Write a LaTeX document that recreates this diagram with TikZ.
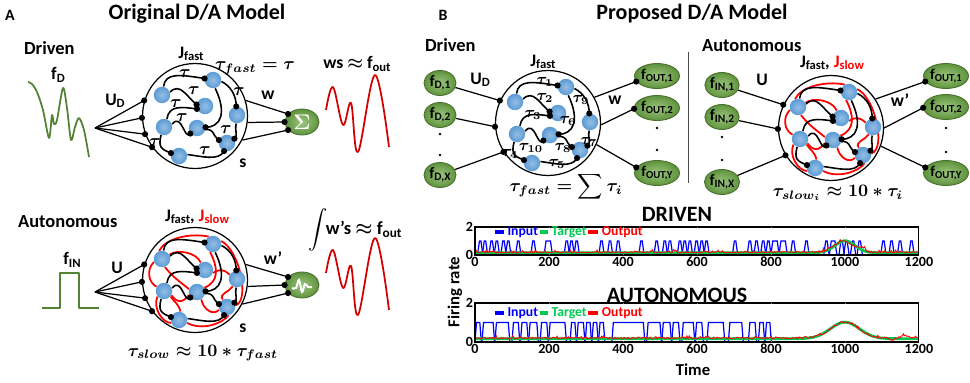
\documentclass[tikz,border=0pt]{standalone}
\usepackage{amsmath}
\usepackage{fontspec}
\setmainfont{Carlito}
\usetikzlibrary{shapes.geometric}

\definecolor{nb}{RGB}{91,155,213}
\definecolor{ng}{RGB}{112,173,71}
\definecolor{wg}{RGB}{84,130,53}
\definecolor{wr}{RGB}{210,0,0}
\definecolor{tg}{RGB}{0,200,80}

\newcommand{\lowtxt}[1]{\raisebox{-0.3ex}{\scalebox{0.72}{#1}}}

\tikzset{
  lbl/.style={font=\bfseries\boldmath\fontsize{10}{12}\selectfont, inner sep=1pt},
  head/.style={font=\bfseries\fontsize{10.5}{12}\selectfont, inner sep=1pt},
  ttl/.style={font=\bfseries\fontsize{12.5}{15}\selectfont, inner sep=1pt},
  panel/.style={font=\bfseries\fontsize{9}{11}\selectfont, inner sep=1pt},
  tau/.style={font=\boldmath\fontsize{10}{12}\selectfont, inner sep=0pt},
  taui/.style={font=\boldmath\fontsize{9}{11}\selectfont, inner sep=0pt},
  tick/.style={font=\bfseries\fontsize{8}{9}\selectfont, inner sep=1pt},
  leg/.style={font=\bfseries\fontsize{7.8}{9}\selectfont, inner sep=1pt},
  bigcirc/.style={circle, draw, line width=0.7pt, minimum size=2.1cm, inner sep=0pt},
  spot/.style={circle, minimum size=0.33cm, inner sep=0pt},
  neuron/.style={spot, inner color=nb!65!white, outer color=nb},
  dot/.style={circle, fill, inner sep=0pt, minimum size=3.5pt},
  wire/.style={line width=0.7pt},
  fast/.style={line width=0.9pt},
  slow/.style={line width=1pt, red},
  cell/.style={ellipse, draw=ng!65!black, line width=0.5pt, inner color=ng!70!white,
    outer color=ng!85!black, inner sep=0pt, font=\bfseries\fontsize{9}{10}\selectfont},
  incell/.style={cell, minimum width=0.64cm, minimum height=0.5cm},
  outcell/.style={cell, minimum width=0.9cm, minimum height=0.5cm, font=\bfseries\fontsize{8.5}{10}\selectfont},
  sig/.style={line width=1pt, line join=round},
  inp/.style={blue, line width=0.7pt},
  tgt/.style={tg, line width=1.6pt},
  outp/.style={red, line width=0.5pt},
  pics/net/.style={code={
    % body and neuron places
    \node[bigcirc] (-c) at (0,0) {};
    \foreach \x/\y [count=\i] in {-33/-21,18/-36,10/-10,42/-1,-31/11,2/12,32/27,-16/40}
      \node[spot] (-n\i) at (\x,\y) {};
    % slow links
    \ifnum#1=1
      \foreach \a/\b/\p/\q/\r/\s in {n1.110/n2.120/6/-12/-20/-4, n2.20/n7.10/18/8/15/-5,
          n2.250/n6.30/8/15/15/-6, n1.200/n5.150/-8/8/-8/-4, n5.220/n8.200/-5/12/-8/0,
          n8.340/n7.280/15/8/-6/8, n6.160/n1.290/-10/-8/8/10, n3.120/n1.30/-4/-10/8/-6,
          n7.200/n6.300/-6/6/2/10, n6.200/n5.330/-6/8/6/8, n7.120/n4.240/-4/-6/-4/6,
          n8.80/n5.320/-2/-8/4/6, n4.150/n3.340/-6/-6/6/-4}
        \draw[slow] (-\a) .. controls +(\p,\q) and +(\r,\s) .. (-\b);
    \fi
    % fast links
    \foreach \a/\b/\p/\q/\r/\s in {n1.80/n2.170/2/-14/-25/-4, n1.20/n3.170/10/-10/-10/-8,
        n5.70/n3.200/2/-14/-15/-2, n5.20/n6.220/10/-12/-6/8, n2.285/n6.5/12/25/15/0,
        n2.350/n4.95/10/5/0/-10, n4.265/n7.30/-2/8/4/-4, n6.350/n7.160/10/0/-8/-6,
        n5.250/n8.160/-3/12/-10/-4, n8.10/n7.250/15/2/-5/10}
      \draw[fast] (-\a) .. controls +(\p,\q) and +(\r,\s) .. (-\b);
    % neurons
    \foreach \i in {1,...,8}
      \node[neuron] (-b\i) at (-n\i) {};
    \foreach \b [count=\k] in {n2.170,n3.170,n3.200,n6.220,n6.5,n4.95,n7.30,n7.160,n8.160,n7.250}
      \node[dot] (-d\k) at (-\b) {};
  }},
  pics/net/.default=0
}

\begin{document}
\begin{tikzpicture}[x=0.02cm, y=-0.02cm,
  declare function={bump(\u,\m,\s)=exp(-(min(abs((\u-\m)/\s),3))*(min(abs((\u-\m)/\s),3)));}]
\useasboundingbox (0,0) rectangle (970,382);
\pgfmathsetseed{7}

% Panel A titles
\node[panel] (lA) at (10,15) {A};
\node[ttl] (tA) at (197,14) {Original D/A Model};

% A: driven
\node[head, anchor=west] (dA) at (22,48) {Driven};
\node[lbl] (fdA) at (58,75) {f\lowtxt{D}};
\draw[sig, wg] plot[smooth, tension=0.5] coordinates {(28,82) (32,84) (37,92) (43,110) (49,138)
  (52,115) (54,124) (57,120) (63,88) (67,108) (71,140) (75,127) (79,118) (84,130) (89,157)};
\coordinate (fanA) at (95,128);
\pic (na) at (195,116) {net=0};
\foreach \a in {163,182,200,216}
  \draw[wire] (fanA) -- (na-c.\a) node[dot] {};
\node[cell, minimum width=0.68cm, minimum height=0.52cm, text=white,
  font=\boldmath\fontsize{13}{14}\selectfont] (sum) at (302,122) {$\Sigma$};
\foreach \a/\b in {17/150,353/180,333/210}
  \draw[wire] (na-c.\a) -- (sum.\b) node[dot] {};
\node[lbl] (uA) at (115,101) {U\lowtxt{D}};
\node[lbl] (jA) at (191,54) {J\lowtxt{fast}};
\node[tau] (tfA) at (255,68) {$\tau_{fast}=\tau$};
\node[lbl] (wA) at (268,95) {w};
\node[lbl] (sA) at (243,163) {s};
\foreach \x/\y [count=\i] in {185/74,194/91,176/104,182/118,239/92,226/130,155/143,205/151}
  \node[tau] (ta\i) at (\x,\y) {$\tau$};
\node[lbl] (oA) at (357,64) {ws $\approx$ f\lowtxt{out}};
\foreach \dy in {0,163}
  \draw[sig, wr, shift={(0,\dy)}] plot[smooth, tension=0.6] coordinates {(326,110) (333,87)
    (343,125) (351,103) (358,152) (375,75) (389,147)};

% A: autonomous
\node[head, anchor=west] (aA) at (16,222) {Autonomous};
\node[lbl] (fiA) at (72,260) {f\lowtxt{IN}};
\draw[sig, wg] (42,308) -- (60,308) -- (60,273) -- (79,273) -- (79,308) -- (99,308);
\coordinate (fanB) at (95,292);
\pic (nc) at (195,280) {net=1};
\foreach \a in {163,182,200,216}
  \draw[wire] (fanB) -- (nc-c.\a) node[dot] {};
\node[cell, minimum width=0.68cm, minimum height=0.52cm] (osc) at (302,285) {};
\draw[white, line width=1.1pt] plot[smooth, tension=0.7] coordinates {(292,288) (296,288)
  (299,280) (302,292) (305,284) (308,287) (312,287)};
\foreach \a/\b in {17/150,353/180,333/210}
  \draw[wire] (nc-c.\a) -- (osc.\b) node[dot] {};
\node[lbl] (uB) at (117,268) {U};
\node[lbl] (jB) at (197,217) {J\lowtxt{fast}, \textcolor{red}{J\lowtxt{slow}}};
\node[lbl] (wB) at (273,258) {w’};
\node[lbl] (sB) at (243,328) {s};
\node[tau] (tsA) at (203,353) {$\tau_{slow}\approx 10*\tau_{fast}$};
\node[lbl, font=\bfseries\boldmath\fontsize{10.5}{12}\selectfont] (iA) at (355,230)
  {$\displaystyle\int$\kern-1pt w’s $\approx$ f\lowtxt{out}};

% Panel B titles
\node[panel] (lB) at (443,15) {B};
\node[ttl] (tB) at (692,14) {Proposed D/A Model};
\draw[line width=0.5pt, black!70] (688,52) -- (688,183);

% B: driven
\node[head, anchor=west] (dB) at (423,45) {Driven};
\foreach \y/\t [count=\i] in {83/{D,1},115/{D,2},175/{D,X}}
  \node[incell] (fd\i) at (440,\y) {f\lowtxt{\t}};
\foreach \y in {134,155} \fill (440,\y) circle (1.3);
\pic (nb) at (548,123) {net=0};
\foreach \i/\a in {1/155,2/184,3/213}
  \draw[wire] (fd\i) -- (nb-c.\a) node[dot] {};
\foreach \y/\t [count=\i] in {76/{OUT,1},108/{OUT,2},173/{OUT,Y}}
  \node[outcell] (fo\i) at (657,\y) {f\lowtxt{\t}};
\foreach \y in {128,150} \fill (657,\y) circle (1.3);
\foreach \a/\i/\b in {29/1/195,358/2/182,336/3/165}
  \draw[wire] (nb-c.\a) -- (fo\i.\b) node[dot] {};
\node[lbl] (uC) at (480,80) {U\lowtxt{D}};
\node[lbl] (jC) at (543,62) {J\lowtxt{fast}};
\node[lbl] (wC) at (615,100) {w};
\foreach \x/\y/\k in {545/82/1,545/98/2,533/115/3,510/154/4,557/164/5,568/121/6,589/142/7,
    563/148/8,581/100/9,531/148/10}
  \node[taui] (tb\k) at (\x,\y) {$\tau_{\k}$};
\node[tau] (tfB) at (566,187) {$\tau_{fast}=\displaystyle\sum\tau_i$};

% B: autonomous
\node[head, anchor=west] (aB) at (700,46) {Autonomous};
\foreach \y/\t [count=\i] in {85/{IN,1},117/{IN,2},182/{IN,X}}
  \node[incell] (fi\i) at (722,\y) {f\lowtxt{\t}};
\foreach \y in {137,160} \fill (722,\y) circle (1.3);
\pic (nd) at (831,128) {net=1};
\foreach \i/\a in {1/154,2/181,3/211}
  \draw[wire] (fi\i) -- (nd-c.\a) node[dot] {};
\foreach \y/\t [count=\i] in {76/{OUT,1},107/{OUT,2},173/{OUT,Y}}
  \node[outcell] (fa\i) at (946,\y) {f\lowtxt{\t}};
\foreach \y in {128,152} \fill (946,\y) circle (1.3);
\foreach \a/\i/\b in {33/1/195,0/2/182,340/3/165}
  \draw[wire] (nd-c.\a) -- (fa\i.\b) node[dot] {};
\node[lbl] (uD) at (762,80) {U};
\node[lbl] (jD) at (832,63) {J\lowtxt{fast}, \textcolor{red}{J\lowtxt{slow}}};
\node[lbl] (wD) at (900,100) {w’};
\node[tau] (tsB) at (838,193) {$\tau_{slow_i}\approx 10*\tau_i$};

% Traces
\node[ttl] (hd) at (677,214) {DRIVEN};
\node[ttl] (ha) at (677,295) {AUTONOMOUS};
\node[lbl, rotate=90, font=\bfseries\fontsize{9.5}{11}\selectfont] (fr) at (455,292) {Firing rate};
\node[lbl, font=\bfseries\fontsize{9.5}{11}\selectfont] (tm) at (693,370) {Time};

% driven trace
\begin{scope}[shift={(475,255)}, x=0.0074cm, y=0.28cm]
  \draw[inp] (0,0.05) -- (1200,0.05);
  \foreach \t/\w in {14/2,27/2,45/2,59/2,77/2,90/2,117/2,158/2,198/6,248/2,261/2,275/2,342/2,
      365/2,387/2,450/2,491/2,513/2,527/2,554/2,567/2,581/2,599/2,613/2,626/2,703/2,743/2,
      761/2,779/2,793/2,811/6,833/6,860/2,896/2,950/2,968/5,991/2,1004/2,1022/2,1040/2,
      1104/2,1126/2,1149/2,1180/2}
    \draw[inp] (\t-\w-5,0.05) -- (\t-\w,1) -- (\t+\w,1) -- (\t+\w+5,0.05);
  \draw[tgt] plot[domain=0:1200, samples=161, smooth] (\x, {0.16+0.86*bump(\x,1000,38)});
  \draw[outp] plot[domain=0:1200, samples=401] (\x, {0.15+0.08*rnd+0.18*rnd^8
    +0.8*bump(\x,995,35)+0.3*bump(\x,1045,12)});
  \draw[line width=0.6pt] (0,0) rectangle (1200,2);
  \foreach \t in {200,400,...,1000} {
    \draw[gray] (\t,0) -- (\t,0.1);
    \draw[gray] (\t,2) -- (\t,1.9);
  }
  \foreach \t in {0,200,...,1200}
    \node[tick, below] (xd\t) at (\t,0) {\t};
  \node[tick, left] (yd2) at (0,2) {2};
  \node[tick, left] (yd0) at (0,0) {0};
  \draw[blue, line width=2.2pt] (54,1.64) -- (78,1.64) node[leg, right] (ld1) {Input};
  \draw[tg, line width=2.2pt] (176,1.64) -- (197,1.64) node[leg, right] (ld2) {Target};
  \draw[red, line width=2.2pt] (306,1.64) -- (333,1.64) node[leg, right] (ld3) {Output};
\end{scope}

% autonomous trace
\begin{scope}[shift={(475,342)}, x=0.0074cm, y=0.39cm]
  \draw[inp] (0,0.03) -- (1200,0.03);
  \foreach \a/\b in {4/13,23/49,58/90,104/117,127/140,149/167,180/194,203/243,261/270,
      279/293,302/311,320/329,338/347,374/455,468/500,509/527,536/550,563/590,599/613,
      631/671,689/721,743/757,770/779,788/797}
    \draw[inp] (\a-4,0.03) -- (\a,1) -- (\b,1) -- (\b+4,0.03);
  \draw[tgt] plot[domain=0:1200, samples=161, smooth] (\x, {0.17+0.85*bump(\x,1000,55)});
  \draw[outp] plot[domain=0:1200, samples=401] (\x, {0.16+0.08*rnd+0.1*rnd^8
    +0.82*bump(\x,1000,52)+0.15*bump(\x,1160,10)-0.12*bump(\x,1125,8)});
  \draw[line width=0.6pt] (0,0) rectangle (1200,2);
  \foreach \t in {200,400,...,1000} {
    \draw[gray] (\t,0) -- (\t,0.07);
    \draw[gray] (\t,2) -- (\t,1.93);
  }
  \foreach \t in {0,200,...,1200}
    \node[tick, below] (xa\t) at (\t,0) {\t};
  \node[tick, left] (ya2) at (0,2) {2};
  \node[tick, left] (ya0) at (0,0) {0};
  \draw[blue, line width=2.2pt] (54,1.5) -- (78,1.5) node[leg, right] (la1) {Input};
  \draw[tg, line width=2.2pt] (176,1.5) -- (197,1.5) node[leg, right] (la2) {Target};
  \draw[red, line width=2.2pt] (306,1.5) -- (333,1.5) node[leg, right] (la3) {Output};
\end{scope}

\end{tikzpicture}
\end{document}
